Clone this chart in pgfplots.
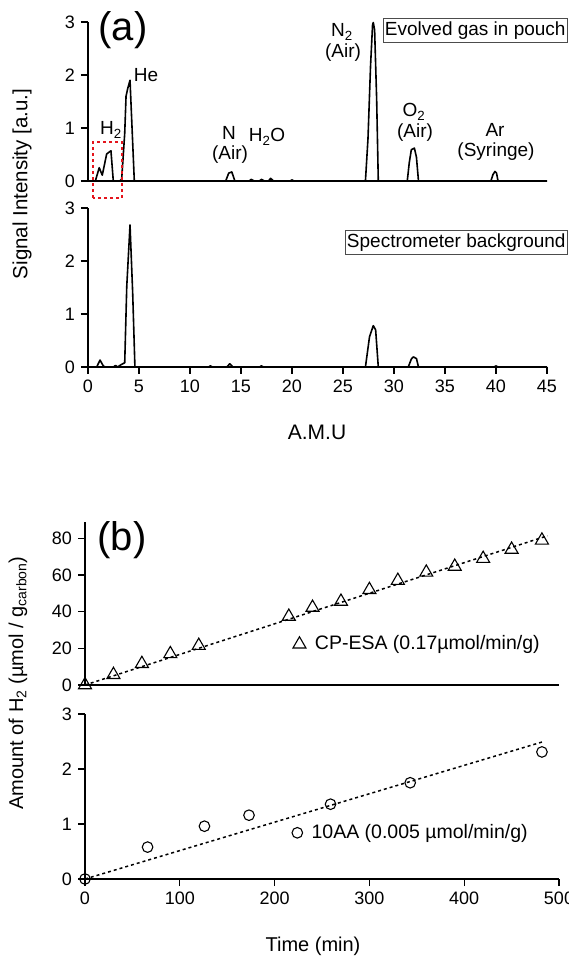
\documentclass[border=0pt]{standalone}
\usepackage{fontspec}
\setmainfont{Liberation Sans}
\usepackage{pgfplots}
\pgfplotsset{compat=1.18}

\definecolor{boxred}{RGB}{228,20,28}

\pgfplotsset{
  panel/.style={
    scale only axis, clip=false,
    axis lines*=left,
    axis line style={line width=1.5pt},
    every tick/.style={line width=1.3pt, black},
    tick align=outside,
    major tick length=7pt,
    ticklabel style={font=\fontsize{18}{20}\selectfont},
    /pgf/number format/assume math mode=true,
    anchor=south west,
  },
  spec/.style={black, line width=1.6pt, line join=round, no marks},
  fit/.style={black, line width=1.5pt, dash pattern=on 3pt off 3pt, no marks, forget plot},
  lgd/.style={legend style={draw=none, fill=none, anchor=west, column sep=7pt,
    font=\fontsize{19.5}{22}\selectfont}},
}

\begin{document}
\fontsize{18}{20}\selectfont
\begin{tikzpicture}[x=1pt,y=1pt]
\path[use as bounding box] (0pt,0pt) rectangle (569pt,958pt);

% (a) evolved gas in pouch
\begin{axis}[panel, at={(88pt,777pt)}, width=459pt, height=159pt,
  xmin=0, xmax=45, ymin=0, ymax=3, xtick=\empty, ytick={0,1,2,3}]
\addplot[spec] coordinates {
(0,0) (0.72,0) (1.1,0.25) (1.4,0.11) (1.83,0.51) (2.25,0.57) (2.48,0) (3.1,0)
(3.3,0.03) (3.6,0.9) (3.73,1.6) (3.9,1.75) (4.12,1.9) (4.54,0)
(13.5,0) (13.8,0.15) (14.1,0.17) (14.4,0)
(15.8,0) (16.0,0.03) (16.3,0) (16.8,0) (17.0,0.03) (17.3,0) (17.7,0) (17.9,0.05) (18.2,0)
(19.8,0) (20.0,0.02) (20.2,0)
(27.2,0) (27.45,0.8) (27.7,2.17) (27.9,2.95) (27.97,2.99) (28.1,2.85) (28.3,1.54) (28.46,0)
(31.3,0) (31.5,0.35) (31.7,0.59) (32.0,0.62) (32.2,0.45) (32.4,0)
(39.5,0) (39.7,0.12) (39.9,0.18) (40.05,0.15) (40.2,0) (45,0)
};
\end{axis}

% (a) spectrometer background
\begin{axis}[panel, at={(88pt,591pt)}, width=459pt, height=159pt,
  xmin=0, xmax=45, ymin=0, ymax=3, xtick={0,5,...,45}, ytick={0,1,2,3}]
\addplot[spec] coordinates {
(0,0) (0.85,0) (1.18,0.13) (1.5,0.02) (1.7,0) (2.5,0) (2.7,0.03) (2.9,0)
(3.3,0.05) (3.6,0.08) (3.8,1.52) (4.12,2.68) (4.38,1.4) (4.6,0)
(11.8,0) (12.0,0.02) (12.2,0) (13.6,0) (13.9,0.06) (14.2,0) (16.8,0) (17.0,0.02) (17.2,0)
(27.2,0) (27.6,0.57) (27.97,0.78) (28.2,0.7) (28.46,0)
(31.4,0) (31.7,0.15) (31.9,0.19) (32.2,0.16) (32.4,0)
(39.8,0) (40.0,0.02) (40.2,0) (45,0)
};
\end{axis}

% (b) CP-ESA
\begin{axis}[panel, lgd, at={(85pt,273pt)}, width=474pt, height=163pt,
  xmin=0, xmax=500, ymin=0, ymax=89, xtick=\empty, ytick={0,20,...,80},
  legend style={at={(0.432,0.25)}}]
\addplot[fit] coordinates {(0,0) (488,81.5)};
\addplot[only marks, mark=triangle, mark size=7.5pt, mark options={line width=1.1pt, fill=white}]
coordinates {
(0,0) (30,5.6) (60,11.6) (90,17) (120,21.5) (215,37.4) (240,42.3) (270,45.6)
(300,52) (330,57) (360,61.5) (390,64.7) (420,69) (450,74) (482,79)
};
\addlegendentry{CP-ESA (0.17µmol/min/g)}
\end{axis}

% (b) 10AA
\begin{axis}[panel, lgd, at={(85pt,79pt)}, width=474pt, height=165pt,
  xmin=0, xmax=500, ymin=0, ymax=3, xtick={0,100,...,500}, ytick={0,1,2,3},
  legend style={at={(0.430,0.28)}}]
\addplot[fit] coordinates {(0,0) (482,2.49)};
\addplot[only marks, mark=o, mark size=5.3pt, mark options={line width=1.1pt}]
coordinates {
(0,0) (66,0.58) (126,0.96) (173,1.16) (259,1.36) (343,1.75) (482,2.31)
};
\addlegendentry{10AA (0.005 µmol/min/g)}
\end{axis}

% labels
\node[rotate=90, font=\fontsize{20.5}{23}\selectfont] at (22pt,774pt) {Signal Intensity [a.u.]};
\node[font=\fontsize{21}{24}\selectfont] at (317pt,526pt) {A.M.U};
\node[rotate=90, font=\fontsize{20}{23}\selectfont] at (18pt,275pt) {Amount of H\textsubscript{2} (µmol / g\textsubscript{carbon})};
\node[font=\fontsize{20}{23}\selectfont] at (313pt,12pt) {Time (min)};
\node[font=\fontsize{40}{44}\selectfont] at (123pt,928pt) {(a)};
\node[font=\fontsize{40}{44}\selectfont] at (122pt,418pt) {(b)};

\begin{scope}[font=\fontsize{19}{21}\selectfont]
\node at (146pt,883pt) {He};
\node at (111pt,828pt) {H\textsubscript{2}};
\node at (229pt,825pt) {N};
\node at (230pt,803pt) {(Air)};
\node at (267pt,821pt) {H\textsubscript{2}O};
\node at (342pt,926pt) {N\textsubscript{2}};
\node at (343pt,905pt) {(Air)};
\node at (414pt,846pt) {O\textsubscript{2}};
\node at (415pt,825pt) {(Air)};
\node at (495pt,828pt) {Ar};
\node at (496pt,806pt) {(Syringe)};
\node[draw=black!70, line width=0.8pt, inner xsep=2pt, inner ysep=3pt, anchor=north east] at (568pt,940pt) {Evolved gas in pouch};
\node[draw=black!70, line width=0.8pt, inner xsep=2pt, inner ysep=3pt, anchor=north east] at (568pt,728pt) {Spectrometer background};
\end{scope}

\draw[boxred, line width=2.8pt, dash pattern=on 3pt off 3pt] (93pt,760pt) rectangle (122pt,816pt);
\end{tikzpicture}
\end{document}
